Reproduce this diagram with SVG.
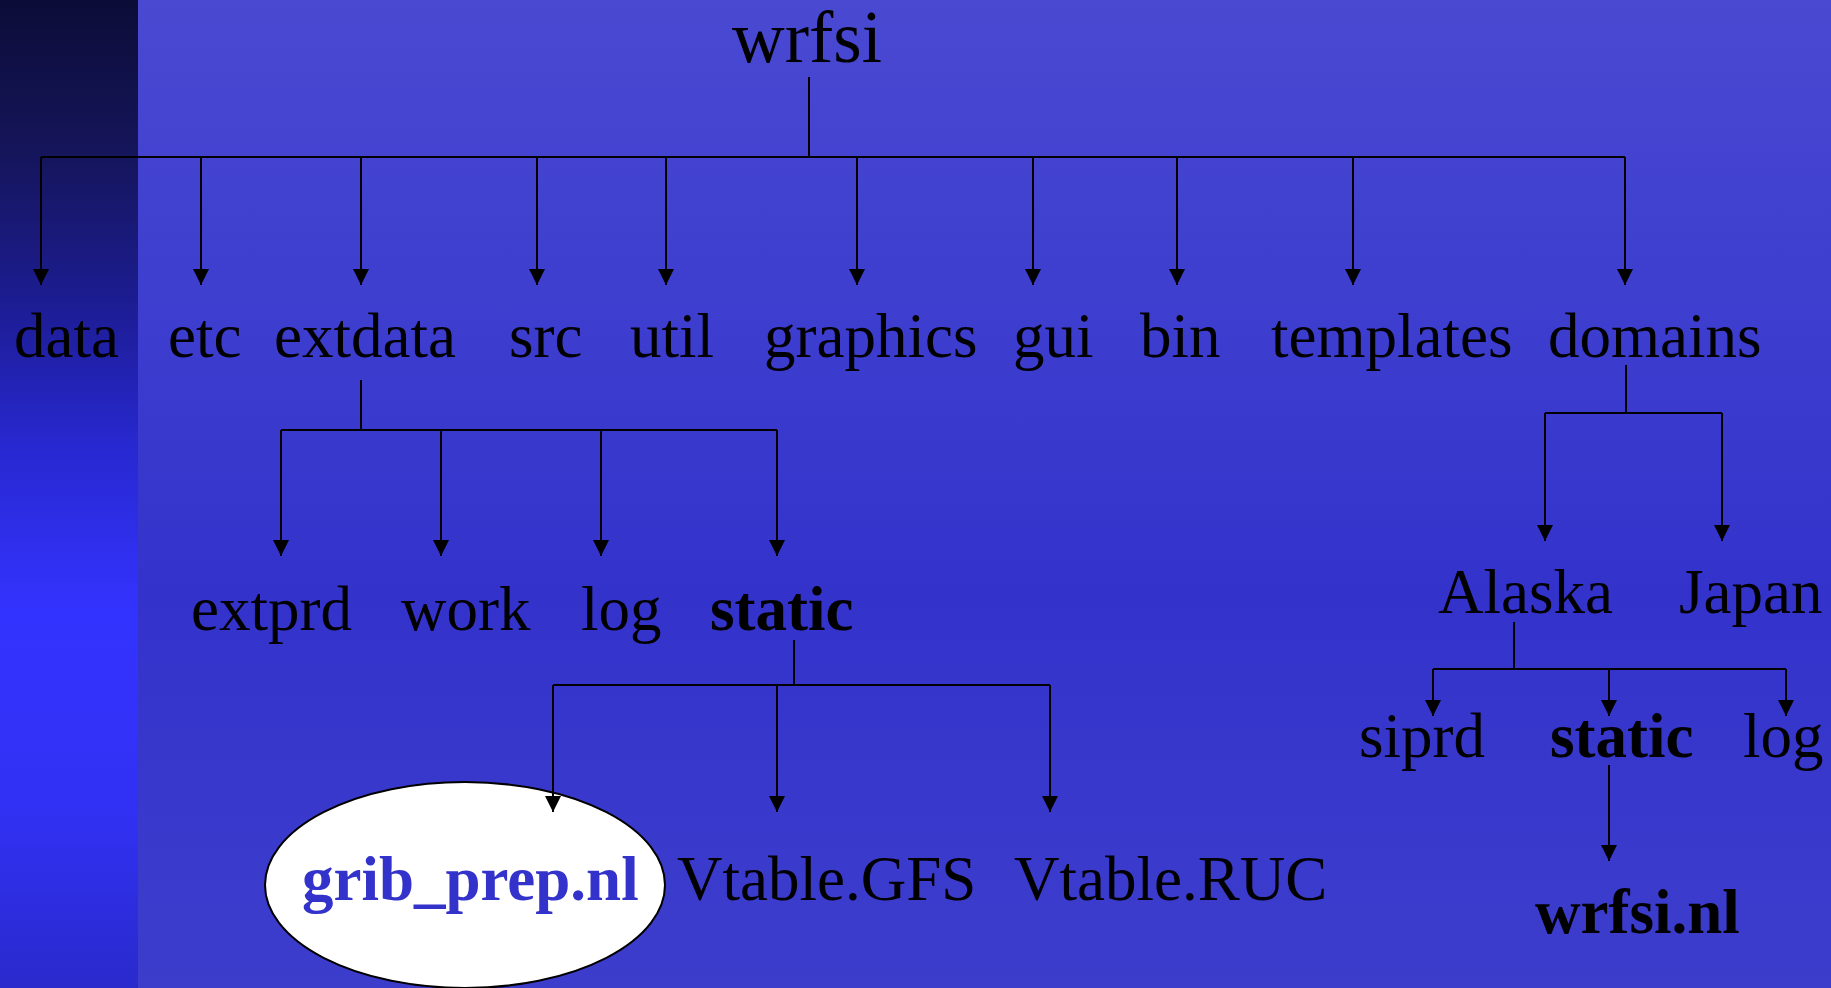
<svg xmlns="http://www.w3.org/2000/svg" width="1831" height="988" viewBox="0 0 1831 988">
<defs>
<linearGradient id="bg" x1="0" y1="0" x2="0" y2="1">
<stop offset="0" stop-color="#4949d2"/>
<stop offset="0.6" stop-color="#3333cc"/>
<stop offset="1" stop-color="#3d3dcc"/>
</linearGradient>
<linearGradient id="strip" x1="0" y1="0" x2="0" y2="1">
<stop offset="0" stop-color="#0c0c38"/>
<stop offset="0.15" stop-color="#15155a"/>
<stop offset="0.3" stop-color="#1c1c90"/>
<stop offset="0.45" stop-color="#2828d0"/>
<stop offset="0.62" stop-color="#3333ff"/>
<stop offset="0.82" stop-color="#3131f4"/>
<stop offset="1" stop-color="#2a2acc"/>
</linearGradient>
<marker id="arr" markerUnits="userSpaceOnUse" markerWidth="16" markerHeight="16" refX="16" refY="8" orient="auto">
<path d="M0,0 L16,8 L0,16 z" fill="#000"/>
</marker>
</defs>
<style>
.t{font-family:"Liberation Serif","Times New Roman",serif;font-size:63px;fill:#000}
.b{font-weight:bold}
.c{fill:none;stroke:#000;stroke-width:2}
.a{marker-end:url(#arr)}
</style>
<rect x="0" y="0" width="1831" height="988" fill="url(#bg)"/>
<rect x="0" y="0" width="138" height="988" fill="url(#strip)"/>

<g id="n-wrfsi"><text class="t" x="732" y="62" style="font-size:73px">wrfsi</text></g>
<g id="n-data"><text class="t" x="14" y="357">data</text></g>
<g id="n-etc"><text class="t" x="168" y="357">etc</text></g>
<g id="n-extdata"><text class="t" x="274" y="357">extdata</text></g>
<g id="n-src"><text class="t" x="509" y="357">src</text></g>
<g id="n-util"><text class="t" x="630" y="357">util</text></g>
<g id="n-graphics"><text class="t" x="764" y="357">graphics</text></g>
<g id="n-gui"><text class="t" x="1013" y="357">gui</text></g>
<g id="n-bin"><text class="t" x="1140" y="357">bin</text></g>
<g id="n-templates"><text class="t" x="1271" y="357">templates</text></g>
<g id="n-domains"><text class="t" x="1548" y="357">domains</text></g>

<g id="n-extprd"><text class="t" x="191" y="630">extprd</text></g>
<g id="n-work"><text class="t" x="401" y="630">work</text></g>
<g id="n-log1"><text class="t" x="581" y="630">log</text></g>
<g id="n-static1"><text class="t b" x="710" y="630">static</text></g>

<g id="n-grib"><ellipse cx="465" cy="885" rx="200" ry="103" fill="#fff" stroke="#000" stroke-width="2"/><text class="t b" x="302" y="900" style="fill:#3333cc">grib_prep.nl</text></g>
<g id="n-vgfs"><text class="t" x="677" y="900">Vtable.GFS</text></g>
<g id="n-vruc"><text class="t" x="1014" y="900">Vtable.RUC</text></g>

<g id="n-alaska"><text class="t" x="1438" y="613">Alaska</text></g>
<g id="n-japan"><text class="t" x="1679" y="613">Japan</text></g>

<g id="n-siprd"><text class="t" x="1359" y="757">siprd</text></g>
<g id="n-static2"><text class="t b" x="1550" y="757">static</text></g>
<g id="n-log2"><text class="t" x="1743" y="757">log</text></g>
<g id="n-wrfsinl"><text class="t b" x="1535" y="933">wrfsi.nl</text></g>

<g id="connectors">
<path class="c" d="M809 77 V157 M41 157 H1625"/>
<path class="c a" d="M41 157 V285"/>
<path class="c a" d="M201 157 V285"/>
<path class="c a" d="M361 157 V285"/>
<path class="c a" d="M537 157 V285"/>
<path class="c a" d="M666 157 V285"/>
<path class="c a" d="M857 157 V285"/>
<path class="c a" d="M1033 157 V285"/>
<path class="c a" d="M1177 157 V285"/>
<path class="c a" d="M1353 157 V285"/>
<path class="c a" d="M1625 157 V285"/>

<path class="c" d="M361 380 V430 M281 430 H777"/>
<path class="c a" d="M281 430 V556"/>
<path class="c a" d="M441 430 V556"/>
<path class="c a" d="M601 430 V556"/>
<path class="c a" d="M777 430 V556"/>

<path class="c" d="M794 640 V685 M553 685 H1050"/>
<path class="c a" d="M553 685 V812"/>
<path class="c a" d="M777 685 V812"/>
<path class="c a" d="M1050 685 V812"/>

<path class="c" d="M1626 365 V413 M1545 413 H1722"/>
<path class="c a" d="M1545 413 V541"/>
<path class="c a" d="M1722 413 V541"/>

<path class="c" d="M1514 622 V669 M1433 669 H1786"/>
<path class="c a" d="M1433 669 V716"/>
<path class="c a" d="M1609 669 V716"/>
<path class="c a" d="M1786 669 V716"/>

<path class="c a" d="M1609 765 V861"/>
</g>
</svg>
